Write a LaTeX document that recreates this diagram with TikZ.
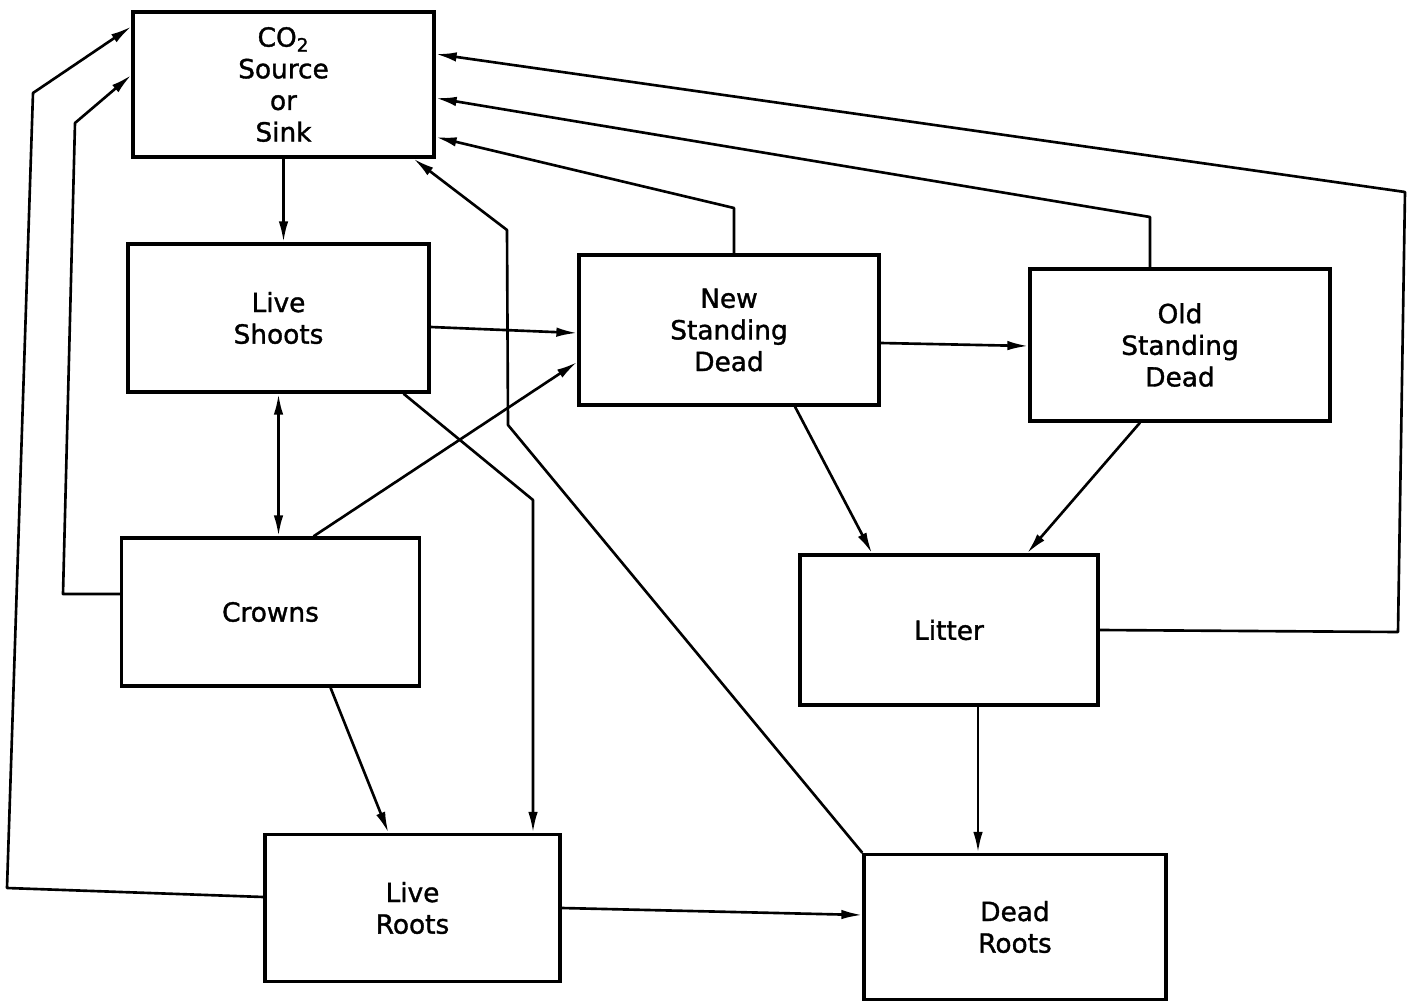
\documentclass[tikz,border=0pt]{standalone}
\usepackage{fontspec}
\setmainfont{DejaVu Sans}[BoldFont={DejaVu Sans},BoldFeatures={FakeBold=1.3}]
\usetikzlibrary{arrows.meta,calc}
\begin{document}
\begin{tikzpicture}[x=0.02cm,y=-0.02cm,
  box/.style={draw,line width=1.9pt,rectangle,align=center,inner sep=0pt,
              font=\fontsize{15}{18}\selectfont\bfseries},
  arr/.style={line width=1.5pt,line join=round,-{Latex[length=4.2mm,width=1.9mm]}},
  dbl/.style={line width=1.5pt,{Latex[length=4.2mm,width=1.9mm]}-{Latex[length=4.2mm,width=1.9mm]}}]
\useasboundingbox (0,0) rectangle (1411,1007);

% boxes
\node[box,minimum width=6.02cm,minimum height=2.9cm]  (co2)    at (283.5,84.5) {CO\textsubscript{2}\\Source\\or\\Sink};
\node[box,minimum width=6.02cm,minimum height=2.96cm] (shoots) at (278.5,318)  {Live\\Shoots};
\node[box,minimum width=6.0cm, minimum height=3.0cm]  (nsd)    at (729,330)    {New\\Standing\\Dead};
\node[box,minimum width=6.0cm, minimum height=3.04cm] (osd)    at (1180,345)   {Old\\Standing\\Dead};
\node[box,minimum width=5.96cm,minimum height=2.96cm] (crowns) at (270.5,612)  {Crowns};
\node[box,minimum width=5.96cm,minimum height=3.0cm]  (litter) at (949,630)    {Litter};
\node[box,minimum width=5.9cm, minimum height=2.94cm] (lroots) at (412.5,908)  {Live\\Roots};
\node[box,minimum width=6.04cm,minimum height=2.9cm]  (droots) at (1015,927)   {Dead\\Roots};

% bend points
\coordinate (k1) at (533,500);
\coordinate (k2a) at (508,425);
\coordinate (k2b) at (507,230);
\coordinate (k3) at (734,208);
\coordinate (k4) at (1150,217);
\coordinate (k5a) at (1398,632);
\coordinate (k5b) at (1405,192);
\coordinate (k6a) at (63,594);
\coordinate (k6b) at (75,123);
\coordinate (k7a) at (7,888);
\coordinate (k7b) at (33,93);

% connectors
\draw[arr] (co2.south) -- (co2.south |- shoots.north);
\draw[arr] ([shift={(0,9)}]shoots.east) -- ([shift={(0,3)}]nsd.west);
\draw[arr] ([shift={(0,13)}]nsd.east) -- ([shift={(0,1)}]osd.west);
\draw[dbl] (shoots.south) -- (shoots.south |- crowns.north);
\draw[arr] ([shift={(43,0)}]crowns.north) -- ([shift={(0,32)}]nsd.west);
\draw[arr] ([shift={(125,0)}]shoots.south) -- (k1) -- (k1 |- lroots.north);
\draw[arr] ([shift={(60,0)}]crowns.south) -- ([shift={(-24,0)}]lroots.north);
\draw[arr] ([shift={(66,0)}]nsd.south) -- ([shift={(-77,0)}]litter.north);
\draw[arr] ([shift={(-40,0)}]osd.south) -- ([shift={(78,0)}]litter.north);
\draw[arr] ([shift={(29,0)}]litter.south) -- ([shift={(29,0)}]litter.south |- droots.north);
\draw[arr] (lroots.east) -- ([shift={(0,-12)}]droots.west);
\draw[arr] (droots.north west) -- (k2a) -- (k2b) -- ([shift={(130,0)}]co2.south);
\draw[arr] ([shift={(5,0)}]nsd.north) -- (k3) -- ([shift={(0,52.5)}]co2.east);
\draw[arr] ([shift={(-30,0)}]osd.north) -- (k4) -- ([shift={(0,13.5)}]co2.east);
\draw[arr] (litter.east) -- (k5a) -- (k5b) -- ([shift={(0,-30.5)}]co2.east);
\draw[arr] ([shift={(0,-18)}]crowns.west) -- (k6a) -- (k6b) -- ([shift={(0,-9.5)}]co2.west);
\draw[arr] ([shift={(0,-11)}]lroots.west) -- (k7a) -- (k7b) -- ([shift={(0,-58)}]co2.west);
\end{tikzpicture}
\end{document}
